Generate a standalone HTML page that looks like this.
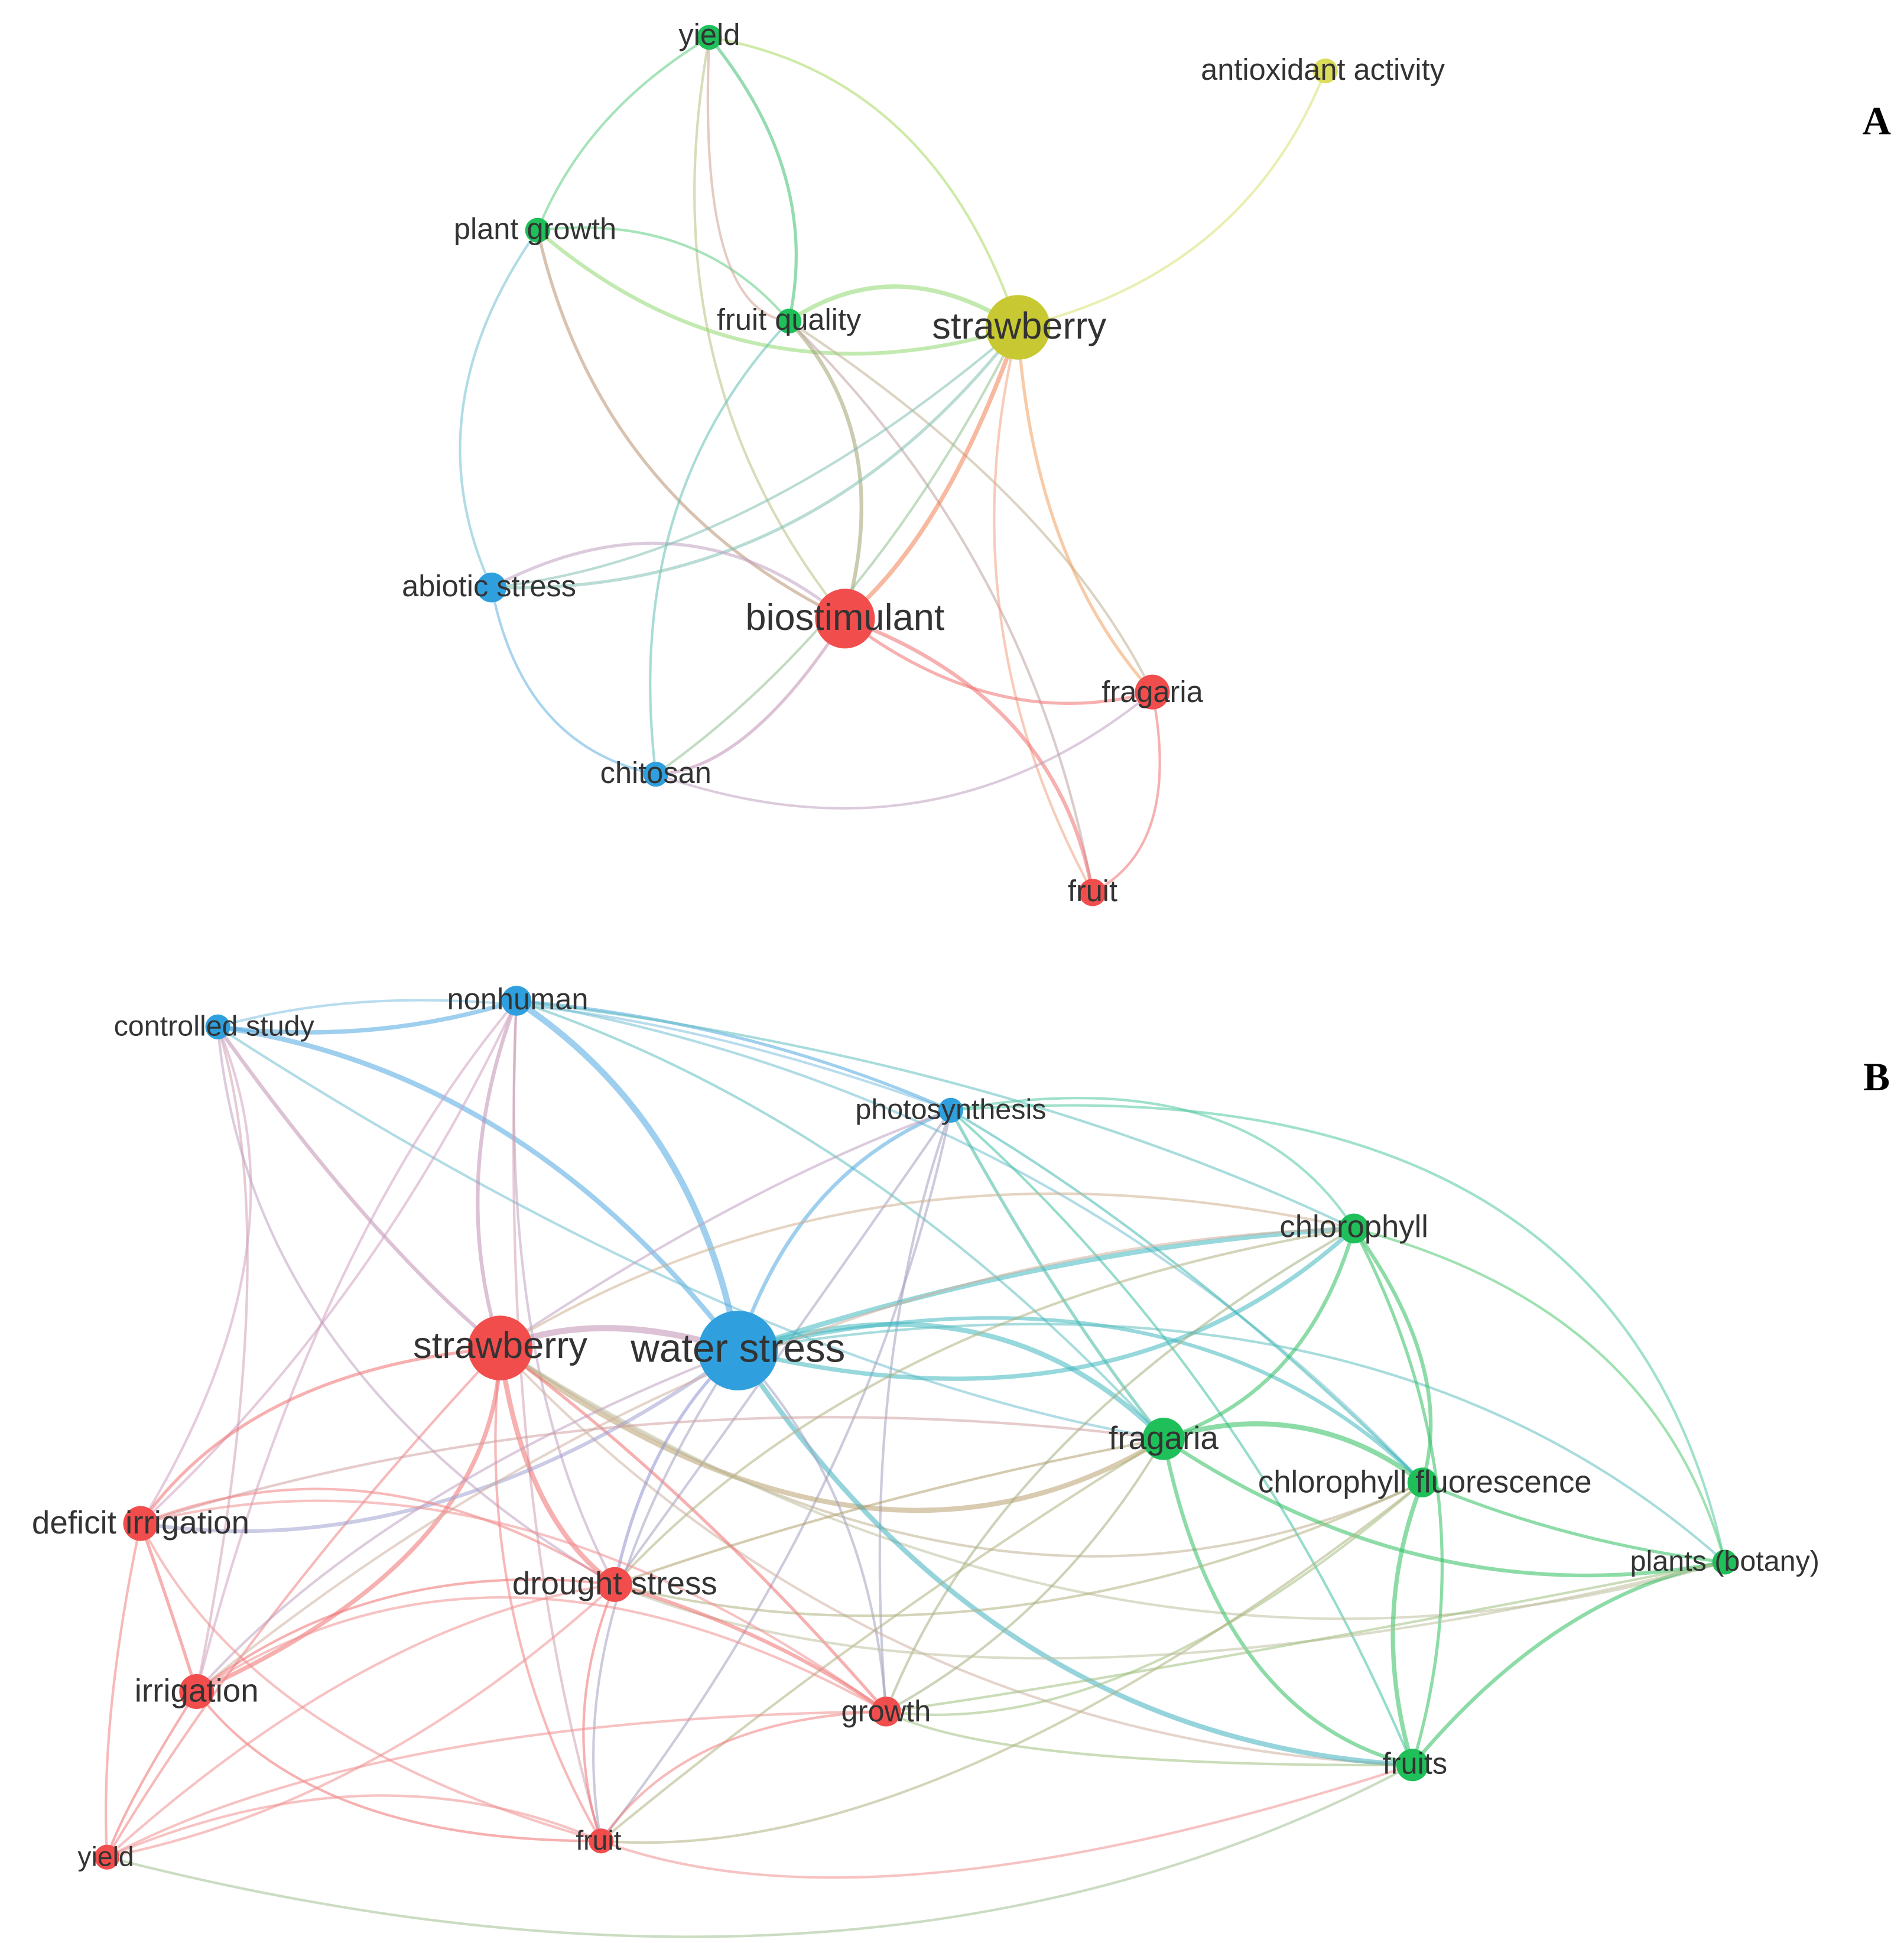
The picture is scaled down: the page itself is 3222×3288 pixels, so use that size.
<!DOCTYPE html>
<html><head><meta charset="utf-8"><style>
html,body{margin:0;padding:0;background:#fff;}
svg{display:block;}
text{font-family:"Liberation Sans",sans-serif;fill:#333;}
</style></head><body>
<svg width="3222" height="3288" viewBox="0 0 1530 1561" preserveAspectRatio="none" xmlns="http://www.w3.org/2000/svg">
<g fill="none" stroke-width="2" stroke-opacity="0.55">
<!-- A edges -->
<path d="M570,30 Q470,90 432,185" stroke="#5ccc80"/>
<path d="M570,30 Q660,140 634,258" stroke="#3cc070" stroke-width="2.5"/>
<path d="M570,30 Q750,60 818,263" stroke="#a8d860"/>
<path d="M570,30 Q520,300 679,497" stroke="#b8c080"/>
<path d="M432,185 Q600,330 818,263" stroke="#90d870" stroke-width="3"/>
<path d="M432,185 Q560,170 634,258" stroke="#5ccc80"/>
<path d="M432,185 Q330,330 395,472" stroke="#70c0d0"/>
<path d="M432,185 Q480,400 679,497" stroke="#b89070" stroke-width="2.5"/>
<path d="M634,258 Q720,200 818,263" stroke="#90d870" stroke-width="3.5"/>
<path d="M634,258 Q720,350 679,497" stroke="#a0a070" stroke-width="3"/>
<path d="M634,258 Q500,400 527,622" stroke="#60c0b0"/>
<path d="M634,258 Q850,400 926,556" stroke="#c0b090"/>
<path d="M634,258 Q830,450 878,717" stroke="#c0a0a0"/>
<path d="M570,30 Q560,250 634,258" stroke="#d0a090"/>
<path d="M818,263 Q1000,220 1065,57" stroke="#d8e070"/>
<path d="M818,263 Q650,480 395,472" stroke="#80c0b0" stroke-width="2.5"/>
<path d="M818,263 Q760,430 679,497" stroke="#f08050" stroke-width="3.5"/>
<path d="M818,263 Q830,450 926,556" stroke="#f0a060" stroke-width="2.5"/>
<path d="M818,263 Q760,500 878,717" stroke="#f0a080"/>
<path d="M818,263 Q700,500 527,622" stroke="#90c090"/>
<path d="M395,472 Q550,390 679,497" stroke="#c0a0c0" stroke-width="2.5"/>
<path d="M395,472 Q420,600 527,622" stroke="#60b0e0"/>
<path d="M679,497 Q800,590 926,556" stroke="#f07070" stroke-width="2.5"/>
<path d="M679,497 Q850,560 878,717" stroke="#f07070" stroke-width="3"/>
<path d="M679,497 Q600,620 527,622" stroke="#c090b0" stroke-width="2.5"/>
<path d="M527,622 Q750,700 926,556" stroke="#c0a0c0"/>
<path d="M926,556 Q950,680 878,717" stroke="#f07070"/>
<path d="M395,472 Q600,450 818,263" stroke="#80c0b0"/>
<!-- B edges -->
<path d="M175,825 Q300,840 415,804" stroke="#50a8e0" stroke-width="3.5"/>
<path d="M175,825 Q420,860 593,1085" stroke="#50a8e0" stroke-width="4"/>
<path d="M175,825 Q300,1000 402,1083" stroke="#c090b0" stroke-width="3"/>
<path d="M175,825 Q400,760 764,892" stroke="#80c0e0"/>
<path d="M175,825 Q600,1100 935,1156" stroke="#70c0d0"/>
<path d="M175,825 Q230,1000 158,1359" stroke="#d0a0b0"/>
<path d="M175,825 Q250,1000 113,1224" stroke="#d0a0c0"/>
<path d="M175,825 Q200,1100 494,1273" stroke="#c0a0c0"/>
<path d="M415,804 Q560,900 593,1085" stroke="#50a8e0" stroke-width="5"/>
<path d="M415,804 Q360,950 402,1083" stroke="#c090b0" stroke-width="3"/>
<path d="M415,804 Q600,820 764,892" stroke="#50a8e0" stroke-width="2.5"/>
<path d="M415,804 Q800,850 1088,987" stroke="#60c0c0"/>
<path d="M415,804 Q700,900 935,1156" stroke="#60c0c0"/>
<path d="M415,804 Q850,880 1143,1191" stroke="#70c0d0"/>
<path d="M415,804 Q400,1100 494,1273" stroke="#c0a0c0"/>
<path d="M415,804 Q400,1200 483,1479" stroke="#d0a0b0"/>
<path d="M415,804 Q250,1000 158,1359" stroke="#d0a0c0"/>
<path d="M415,804 Q300,1050 113,1224" stroke="#d0a0c0"/>
<path d="M764,892 Q640,940 593,1085" stroke="#50a8e0" stroke-width="3"/>
<path d="M764,892 Q600,950 402,1083" stroke="#c0a0c0"/>
<path d="M764,892 Q1000,850 1088,987" stroke="#50c8a0"/>
<path d="M764,892 Q850,1050 935,1156" stroke="#40b8a0" stroke-width="2.5"/>
<path d="M764,892 Q950,1000 1143,1191" stroke="#40b8b0"/>
<path d="M764,892 Q1300,850 1386,1255" stroke="#50c8a0"/>
<path d="M764,892 Q1000,1100 1135,1418" stroke="#40c0a0"/>
<path d="M764,892 Q690,1100 712,1375" stroke="#a0a0c0"/>
<path d="M764,892 Q620,1100 494,1273" stroke="#a0a0c0"/>
<path d="M764,892 Q700,1200 483,1479" stroke="#a0a0c0"/>
<path d="M402,1083 Q480,1050 593,1085" stroke="#c090b0" stroke-width="5"/>
<path d="M402,1083 Q700,900 1088,987" stroke="#d0b090"/>
<path d="M402,1083 Q700,1300 935,1156" stroke="#b8a070" stroke-width="4"/>
<path d="M402,1083 Q800,1350 1143,1191" stroke="#c0b090"/>
<path d="M402,1083 Q900,1400 1386,1255" stroke="#c0c0a0"/>
<path d="M402,1083 Q700,1400 1135,1418" stroke="#d0b0a0"/>
<path d="M402,1083 Q200,1100 113,1224" stroke="#f07070" stroke-width="2.5"/>
<path d="M402,1083 Q400,1250 158,1359" stroke="#f07070" stroke-width="3.5"/>
<path d="M402,1083 Q420,1220 494,1273" stroke="#f07070" stroke-width="4"/>
<path d="M402,1083 Q560,1200 712,1375" stroke="#f07070" stroke-width="2.5"/>
<path d="M402,1083 Q380,1300 483,1479" stroke="#f08080"/>
<path d="M402,1083 Q200,1300 86,1492" stroke="#f08080"/>
<path d="M593,1085 Q850,1000 1088,987" stroke="#40b8c0" stroke-width="4"/>
<path d="M593,1085 Q800,1020 935,1156" stroke="#40b8c0" stroke-width="4"/>
<path d="M593,1085 Q950,1000 1143,1191" stroke="#40b8c0" stroke-width="3"/>
<path d="M593,1085 Q1100,1000 1386,1255" stroke="#60c0c0"/>
<path d="M593,1085 Q800,1400 1135,1418" stroke="#40b0c0" stroke-width="4"/>
<path d="M593,1085 Q900,1160 1088,987" stroke="#40b8c0" stroke-width="3.5"/>
<path d="M593,1085 Q350,1260 113,1224" stroke="#a0a0d0" stroke-width="3"/>
<path d="M593,1085 Q300,1200 158,1359" stroke="#c0a0c0"/>
<path d="M593,1085 Q520,1150 494,1273" stroke="#9090d0" stroke-width="2.5"/>
<path d="M593,1085 Q700,1200 712,1375" stroke="#a0a0c0"/>
<path d="M593,1085 Q450,1300 483,1479" stroke="#a0a0c0"/>
<path d="M1088,987 Q1050,1120 935,1156" stroke="#30c060" stroke-width="3"/>
<path d="M1088,987 Q1170,1100 1143,1191" stroke="#30c060" stroke-width="3"/>
<path d="M1088,987 Q1330,1050 1386,1255" stroke="#50c870"/>
<path d="M1088,987 Q1200,1200 1135,1418" stroke="#30c060" stroke-width="2.5"/>
<path d="M1088,987 Q700,1050 494,1273" stroke="#b0b080"/>
<path d="M1088,987 Q800,1150 712,1375" stroke="#a0b080"/>
<path d="M1088,987 Q600,1000 158,1359" stroke="#d0b0a0"/>
<path d="M935,1156 Q1050,1120 1143,1191" stroke="#30c060" stroke-width="4"/>
<path d="M935,1156 Q1150,1300 1386,1255" stroke="#30c060" stroke-width="3"/>
<path d="M935,1156 Q980,1380 1135,1418" stroke="#30c060" stroke-width="3"/>
<path d="M935,1156 Q700,1200 494,1273" stroke="#b0a070"/>
<path d="M935,1156 Q850,1300 712,1375" stroke="#a0b080"/>
<path d="M935,1156 Q700,1300 483,1479" stroke="#b0b080"/>
<path d="M935,1156 Q500,1100 113,1224" stroke="#d0a0a0"/>
<path d="M1143,1191 Q1260,1240 1386,1255" stroke="#30c060" stroke-width="2.5"/>
<path d="M1143,1191 Q1100,1300 1135,1418" stroke="#30c060" stroke-width="3.5"/>
<path d="M1143,1191 Q900,1400 712,1375" stroke="#a0c080"/>
<path d="M1143,1191 Q800,1350 494,1273" stroke="#b0b080"/>
<path d="M1143,1191 Q750,1500 483,1479" stroke="#b0b080"/>
<path d="M1386,1255 Q1250,1280 1135,1418" stroke="#30c060" stroke-width="3"/>
<path d="M1386,1255 Q800,1400 494,1273" stroke="#c0c0a0"/>
<path d="M1386,1255 Q900,1350 712,1375" stroke="#a0c080"/>
<path d="M1135,1418 Q800,1420 712,1375" stroke="#a0c080"/>
<path d="M1135,1418 Q700,1560 483,1479" stroke="#f09090"/>
<path d="M1135,1418 Q700,1650 86,1492" stroke="#a0c090"/>
<path d="M113,1224 Q140,1300 158,1359" stroke="#f07070" stroke-width="2.5"/>
<path d="M113,1224 Q300,1150 494,1273" stroke="#f08080"/>
<path d="M113,1224 Q400,1150 712,1375" stroke="#f09090"/>
<path d="M113,1224 Q80,1380 86,1492" stroke="#f08080"/>
<path d="M113,1224 Q200,1400 483,1479" stroke="#f09090"/>
<path d="M158,1359 Q300,1250 494,1273" stroke="#f07070" stroke-width="2"/>
<path d="M158,1359 Q400,1200 712,1375" stroke="#f09090"/>
<path d="M158,1359 Q100,1450 86,1492" stroke="#f07070"/>
<path d="M158,1359 Q250,1480 483,1479" stroke="#f07070" stroke-width="2"/>
<path d="M494,1273 Q620,1310 712,1375" stroke="#f07070" stroke-width="3"/>
<path d="M494,1273 Q450,1380 483,1479" stroke="#f07070" stroke-width="2"/>
<path d="M494,1273 Q300,1450 86,1492" stroke="#f09090"/>
<path d="M712,1375 Q550,1380 483,1479" stroke="#f08080"/>
<path d="M712,1375 Q300,1380 86,1492" stroke="#f09090"/>
<path d="M483,1479 Q300,1400 86,1492" stroke="#f09090"/>
<path d="M86,1492 Q300,1300 494,1273" stroke="#f09090"/>
</g>
<!-- nodes -->
<g>
<circle cx="570" cy="30" r="10" fill="#1fbf5a"/>
<circle cx="1065" cy="57" r="10" fill="#d8d84a" opacity="0.9"/>
<circle cx="432" cy="185" r="10" fill="#1fbf5a"/>
<circle cx="634" cy="258" r="10" fill="#1fbf5a"/>
<circle cx="818" cy="263" r="26" fill="#c8c832"/>
<circle cx="395" cy="472" r="12" fill="#2fa0dd"/>
<circle cx="679" cy="497" r="24" fill="#f24d4d"/>
<circle cx="926" cy="556" r="14" fill="#f24d4d"/>
<circle cx="527" cy="622" r="10" fill="#2fa0dd"/>
<circle cx="878" cy="717" r="11" fill="#f24d4d"/>

<circle cx="175" cy="825" r="10" fill="#2fa0dd"/>
<circle cx="415" cy="804" r="12" fill="#2fa0dd"/>
<circle cx="764" cy="892" r="10" fill="#2fa0dd"/>
<circle cx="1088" cy="987" r="12" fill="#1fbf5a"/>
<circle cx="402" cy="1083" r="26" fill="#f24d4d"/>
<circle cx="593" cy="1085" r="32" fill="#2fa0dd"/>
<circle cx="935" cy="1156" r="17" fill="#1fbf5a"/>
<circle cx="1143" cy="1191" r="12" fill="#1fbf5a"/>
<circle cx="1386" cy="1255" r="10" fill="#1fbf5a"/>
<circle cx="113" cy="1224" r="14" fill="#f24d4d"/>
<circle cx="494" cy="1273" r="14" fill="#f24d4d"/>
<circle cx="158" cy="1359" r="14" fill="#f24d4d"/>
<circle cx="712" cy="1375" r="12" fill="#f24d4d"/>
<circle cx="1135" cy="1418" r="13" fill="#1fbf5a"/>
<circle cx="86" cy="1492" r="10" fill="#f24d4d"/>
<circle cx="483" cy="1479" r="10" fill="#f24d4d"/>
</g>
<g text-anchor="middle">
<text x="570" y="36" font-size="24">yield</text>
<text x="1063" y="64" font-size="24">antioxidant activity</text>
<text x="430" y="192" font-size="24">plant growth</text>
<text x="634" y="265" font-size="24">fruit quality</text>
<text x="819" y="272" font-size="30">strawberry</text>
<text x="393" y="479" font-size="24">abiotic stress</text>
<text x="679" y="506" font-size="30">biostimulant</text>
<text x="926" y="564" font-size="24">fragaria</text>
<text x="527" y="629" font-size="24">chitosan</text>
<text x="878" y="724" font-size="24">fruit</text>

<text x="172" y="832" font-size="23">controlled study</text>
<text x="416" y="811" font-size="24">nonhuman</text>
<text x="764" y="899" font-size="23">photosynthesis</text>
<text x="1088" y="994" font-size="25">chlorophyll</text>
<text x="402" y="1091" font-size="30">strawberry</text>
<text x="593" y="1094" font-size="32">water stress</text>
<text x="935" y="1164" font-size="26">fragaria</text>
<text x="1145" y="1199" font-size="25">chlorophyll fluorescence</text>
<text x="1386" y="1262" font-size="23">plants (botany)</text>
<text x="113" y="1232" font-size="26">deficit irrigation</text>
<text x="494" y="1281" font-size="26">drought stress</text>
<text x="158" y="1367" font-size="26">irrigation</text>
<text x="712" y="1383" font-size="24">growth</text>
<text x="1137" y="1425" font-size="24">fruits</text>
<text x="85" y="1499" font-size="22">yield</text>
<text x="481" y="1486" font-size="22">fruit</text>
</g>
<text x="1508" y="108" font-size="32" font-weight="bold" text-anchor="middle" style="font-family:'Liberation Serif',serif;fill:#000">A</text>
<text x="1508" y="876" font-size="32" font-weight="bold" text-anchor="middle" style="font-family:'Liberation Serif',serif;fill:#000">B</text>
</svg>
</body></html>
